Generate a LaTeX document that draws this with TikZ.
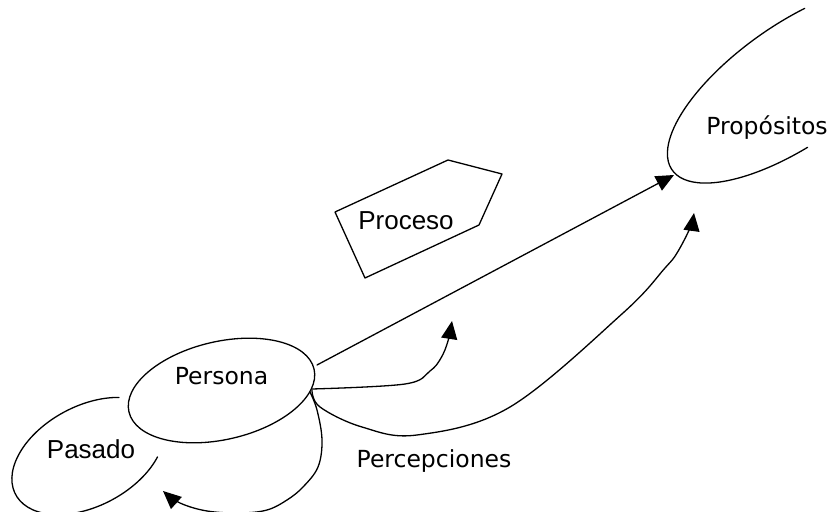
\documentclass[tikz,border=0pt]{standalone}
\usepackage{fontspec}
\setmainfont{DejaVu Sans}
\newfontfamily\arialfont{Liberation Sans}
\usetikzlibrary{arrows.meta}
\tikzset{
  curve/.style={line width=1.3pt, line join=round, line cap=round},
  arr/.style={curve, -{Triangle[length=18pt,width=16pt]}},
  comic/.style={font=\fontsize{23.5}{27}\selectfont, anchor=base, inner sep=0pt},
  arial/.style={font=\arialfont\fontsize{26}{30}\selectfont, anchor=base, inner sep=0pt}
}
\begin{document}
\begin{tikzpicture}[x=1pt,y=1pt]
\useasboundingbox (0,0) rectangle (834,511);
% shapes
\draw[curve] (221.5,120.5) ellipse[x radius=95pt, y radius=49pt, rotate=13];
\draw[curve, shift={(795,427)}, rotate=35] (70:150pt and 60pt) arc[start angle=70, end angle=260, x radius=150pt, y radius=60pt];
\draw[curve, shift={(88,55)}, rotate=28] (48:82pt and 50pt) arc[start angle=48, end angle=318, x radius=82pt, y radius=50pt];
\draw[curve] (335,299) -- (448,351) -- (502,337) -- (479,286) -- (365,233) -- cycle;
% texts
\node[comic] (persona) at (221.5,126) {Persona};
\node[comic] (propositos) at (767,376) {Propósitos};
\node[comic] (percepciones) at (434,44) {Percepciones};
\node[arial] (pasado) at (91,53) {Pasado};
\node[arial] (proceso) at (406,281) {Proceso};
% connection points
\coordinate (pA) at (317,146);
\coordinate (pB) at (312,122);
\coordinate (pC) at (312,121);
\coordinate (pD) at (310,119);
\coordinate (tA) at (674,336);
\coordinate (tB) at (452,190);
\coordinate (tC) at (694,298);
\coordinate (tD) at (163,20);
% connectors
\draw[arr] (pA) -- (tA);
\draw[arr] plot[smooth, tension=0.6] coordinates {(pB) (405,127) (430,140) (441,153) (448,170) (tB)};
\draw[arr] plot[smooth, tension=0.6] coordinates {(pC) (320,104) (362,84) (417,76) (510,104) (623,198) (665,243) (677,258) (690,283) (tC)};
\draw[arr] plot[smooth, tension=0.6] coordinates {(pD) (317,101) (322,71) (318,44) (303,24) (287,11) (267,1) (240,-2) (207,0) (180,8) (tD)};
\end{tikzpicture}
\end{document}
